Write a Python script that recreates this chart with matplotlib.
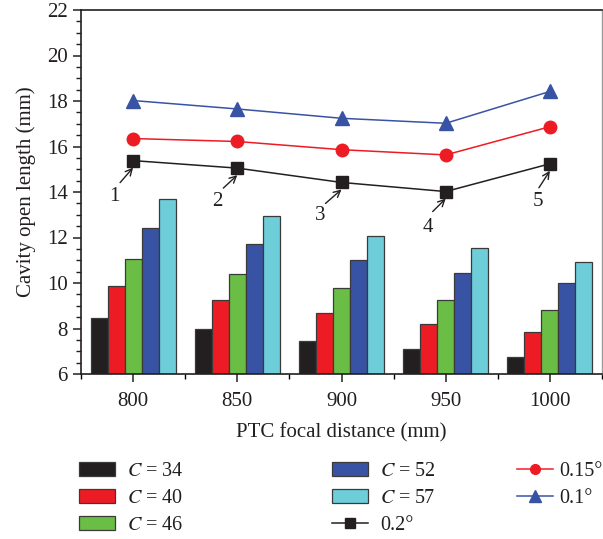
import matplotlib
matplotlib.use("Agg")
import matplotlib.pyplot as plt
import numpy as np
from matplotlib.ticker import MultipleLocator
from matplotlib.patches import Patch
from matplotlib.lines import Line2D
from matplotlib.transforms import offset_copy

plt.rcParams['font.family'] = ['Liberation Serif', 'DejaVu Serif']
plt.rcParams['mathtext.fontset'] = 'stix'

categories = ['800', '850', '900', '950', '1000']
bar_labels = ['34', '40', '46', '52', '57']
c34 = [8.45, 7.98, 7.45, 7.10, 6.75]
c40 = [9.88, 9.24, 8.68, 8.20, 7.86]
c46 = [11.05, 10.38, 9.79, 9.27, 8.81]
c52 = [12.43, 11.70, 11.02, 10.45, 10.00]
c57 = [13.68, 12.95, 12.08, 11.54, 10.91]
bar_series = [c34, c40, c46, c52, c57]

line_labels = ['0.2°', '0.15°', '0.1°']
deg02 = [15.38, 15.05, 14.42, 14.02, 15.24]
deg015 = [16.35, 16.22, 15.86, 15.63, 16.87]
deg01 = [18.02, 17.65, 17.24, 17.02, 18.42]
point_labels = ['1', '2', '3', '4', '5']

# layout-only: annotation offsets (pixels: text, arrow tail) relative to marker
text_off = [(-19, -36), (-20, -33), (-21, -33), (-18, -36), (-12, -38)]
tail_off = [(-13, -22), (-14, -20), (-16, -21), (-13, -20), (-11, -24)]

bar_colors = ['#231f20', '#ed1c24', '#6abd45', '#3953a4', '#6dcdd9']
line_colors = ['#231f20', '#ed1c24', '#3953a4']
fs = 15
lfs = 14.5

fig = plt.figure(figsize=(6.03, 5.39), dpi=100)
ax = fig.add_axes([81/603, 1-374/539, (602-81)/603, (374-10)/539])

x = np.arange(len(categories))
w = 0.163
for i, (vals, col) in enumerate(zip(bar_series, bar_colors)):
    ax.bar(x + (i-2)*w, np.array(vals)-6, bottom=6, width=w, color=col,
           edgecolor='#3a3a3a', linewidth=0.9, zorder=2)

ax.plot(x, deg02, color=line_colors[0], lw=1.1, marker='s', ms=8.5, zorder=3)
ax.plot(x, deg015, color=line_colors[1], lw=1.1, marker='o', ms=9, zorder=3)
ax.plot(x, deg01, color=line_colors[2], lw=1.1, marker='^', ms=10, zorder=3)

pt = 0.72
head = offset_copy(ax.transData, fig=fig, x=0, y=-7*pt, units='points')
for i, lab in enumerate(point_labels):
    tx, ty = text_off[i]
    ax.annotate(lab, xy=(x[i], deg02[i]), xytext=(tx*pt, ty*pt),
                textcoords='offset points', ha='center', va='center',
                fontsize=fs, color='#231f20')
    sx, sy = tail_off[i]
    ax.annotate('', xy=(x[i], deg02[i]), xycoords=head,
                xytext=(sx*pt, sy*pt + 7*pt), textcoords='offset points',
                arrowprops=dict(arrowstyle='->', color='#231f20', lw=1.0,
                                shrinkA=0, shrinkB=0, mutation_scale=12))

ax.set_xlim(-0.5, 4.5)
ax.set_ylim(6, 22)
ax.set_xticks(x)
ax.set_xticklabels(categories, fontsize=fs)
ax.xaxis.set_minor_locator(MultipleLocator(0.5))
ax.yaxis.set_major_locator(MultipleLocator(2))
ax.yaxis.set_minor_locator(MultipleLocator(0.5))
ax.tick_params(axis='y', which='major', labelsize=fs, length=6, width=1.1, direction='out', colors='#231f20')
ax.tick_params(axis='y', which='minor', length=3.5, width=1.0, direction='out', colors='#231f20')
ax.tick_params(axis='x', which='major', length=6, width=1.1, direction='out', pad=7, colors='#231f20')
ax.tick_params(axis='x', which='minor', length=3.5, width=1.0, direction='out')
for side in ['left', 'bottom', 'top']:
    ax.spines[side].set_linewidth(1.2)
    ax.spines[side].set_color('#231f20')
ax.spines['right'].set_color('#9a9a9a')
ax.spines['right'].set_linewidth(1.0)

ax.set_xlabel('PTC focal distance (mm)', fontsize=fs, labelpad=9, color='#231f20')
ax.set_ylabel('Cavity open length (mm)', fontsize=fs, labelpad=8, color='#231f20')

patches = [Patch(facecolor=c, edgecolor='#3a3a3a', linewidth=0.9) for c in bar_colors]
plabels = ['$\\mathit{C}$ = ' + b for b in bar_labels]
lines = [Line2D([], [], color=line_colors[0], lw=1.1, marker='s', ms=6.5),
         Line2D([], [], color=line_colors[1], lw=1.1, marker='o', ms=7),
         Line2D([], [], color=line_colors[2], lw=1.1, marker='^', ms=8)]

groups = [(patches[0:3], plabels[0:3], 79, 0.6),
          (patches[3:5] + [lines[0]], plabels[3:5] + [line_labels[0]], 332, 0.6),
          (lines[1:3], line_labels[1:3], 517, 0.3)]
for hs, ls, xl, pad in groups:
    leg = fig.legend(hs, ls, loc='upper left', bbox_to_anchor=(xl/603, 1-462/539),
                     frameon=False, fontsize=lfs, handlelength=1.8, handleheight=0.7,
                     labelspacing=0.4, handletextpad=pad, borderpad=0,
                     borderaxespad=0)
    for t in leg.get_texts():
        t.set_color('#231f20')

fig.savefig('out.png', dpi=100)
